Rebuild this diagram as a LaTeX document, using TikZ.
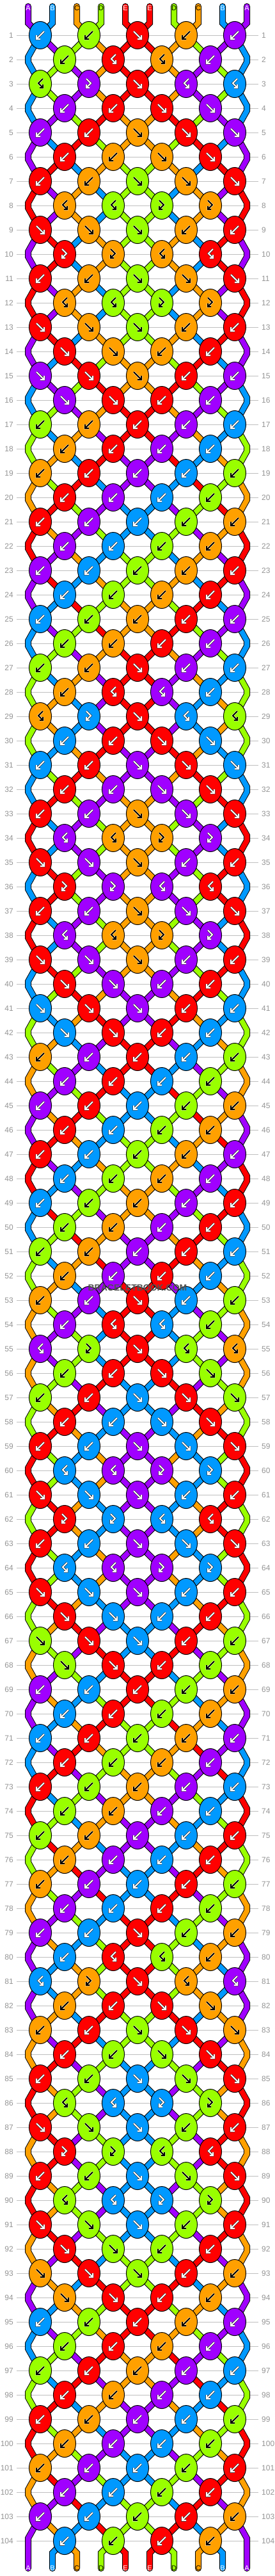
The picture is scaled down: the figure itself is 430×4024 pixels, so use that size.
\documentclass[tikz,border=0pt]{standalone}
\usepackage{fontspec}
\setmainfont{Liberation Sans}
\usetikzlibrary{shapes.geometric}

\begin{document}
\begin{tikzpicture}[x=1pt, y=-1pt,
    %Option for the pattern
    rowline/.style={draw=black!25, line width=1pt},
    rownum/.style={text=black!42, font=\fontsize{12}{12}\selectfont, inner sep=0pt},
    thread/.style={line width=1pt, double=#1, double distance=8pt},
    threadend/.style={thread=#1, line cap=round},
    knot/.style={ellipse, draw=black, line width=1pt, fill=#1,
        minimum width=35pt, minimum height=43pt, inner sep=0pt},
    knotmark/.style={draw=mark#1, line width=2pt, preaction={draw=edge#1, line width=3.4pt}},
    letter/.style={text=mark#1, font=\fontsize{11}{11}\selectfont, inner sep=0pt},
]
    % Colors
    \definecolor{threadA}{RGB}{160,0,255}
    \definecolor{threadB}{RGB}{0,153,255}
    \definecolor{threadC}{RGB}{255,160,0}
    \definecolor{threadD}{RGB}{153,255,0}
    \definecolor{threadE}{RGB}{255,0,0}
    \colorlet{markA}{white}
    \colorlet{markB}{white}
    \colorlet{markC}{black}
    \colorlet{markD}{black}
    \colorlet{markE}{white}
    \colorlet{edgeA}{black!80}
    \colorlet{edgeB}{black!80}
    \colorlet{edgeC}{white!70!threadC}
    \colorlet{edgeD}{white!70!threadD}
    \colorlet{edgeE}{black!80}

    \useasboundingbox (0,0) rectangle (430,4024);

    % Knot kinds: colour from left (0) or right (1) thread, threads crossed or not
    \def\rulef{\def\kside{0}\def\kswap{1}}
    \def\ruleb{\def\kside{1}\def\kswap{1}}
    \def\rulefb{\def\kside{0}\def\kswap{0}}
    \def\rulebf{\def\kside{1}\def\kswap{0}}
    \def\glyphf{(-6,-6) -- (6,6) (6,0) -- (6,6) -- (0,6)}
    \def\glyphb{(6,-6) -- (-6,6) (-6,0) -- (-6,6) -- (0,6)}
    \def\glyphbf{(4,-8) -- (-3,-1) -- (4,6) (4,1) -- (4,6) -- (-1,6)}
    \def\glyphfb{(-4,-8) -- (3,-1) -- (-4,6) (-4,1) -- (-4,6) -- (1,6)}

    % 26 rows, knotted four times
    \def\pattern{{b,b,f,b,b},{b,bf,bf,b},{bf,fb,f,bf,bf},{b,b,f,f},%
{b,b,f,f,f},{b,b,f,f},{b,b,f,f,f},{bf,bf,fb,fb},{f,f,f,b,b},{fb,fb,bf,bf},%
{b,b,f,f,f},{bf,bf,fb,fb},{f,f,f,b,b},{f,f,b,b},{f,f,f,b,b},{f,f,b,b},%
{b,b,b,b,b},{b,b,b,b},{b,b,b,b,b},{b,b,b,b},{b,b,b,b,b},{b,b,b,b},%
{b,b,b,b,b},{b,b,b,b},{b,b,b,b,b},{b,b,b,b}}

    % Row guide lines and numbers
    \foreach \row in {1,...,104} {
        \pgfmathtruncatemacro\ypos{55+38*(\row-1)}
        \draw[rowline] (26,\ypos) -- (404,\ypos);
        \node[rownum, anchor=east] (numL-\row) at (21,\ypos) {\row};
        \node[rownum, anchor=west] (numR-\row) at (409,\ypos) {\row};
    }

    % Threads at the start
    \foreach \col [count=\pos] in {A,B,C,D,E,E,D,C,B,A} {
        \expandafter\xdef\csname s\pos\endcsname{\col}
    }

    % Threads between the knots, row by row
    \foreach \rep in {0,...,3} {
      \foreach \types [count=\p] in \pattern {
        \pgfmathtruncatemacro\row{26*\rep+\p}
        \pgfmathtruncatemacro\odd{mod(\row,2)}
        \pgfmathtruncatemacro\ypos{55+38*(\row-1)}
        \pgfmathtruncatemacro\rp{\row-1}
        \pgfmathtruncatemacro\rr{\row-2}
        \foreach \kind [count=\kn] in \types {
          \pgfmathtruncatemacro\pl{2*\kn-\odd}
          \pgfmathtruncatemacro\pr{\pl+1}
          \pgfmathtruncatemacro\km{\kn-1}
          \pgfmathtruncatemacro\kp{\kn+1}
          \edef\inl{\csname s\pl\endcsname}
          \edef\inr{\csname s\pr\endcsname}
          \csname rule\kind\endcsname
          \ifnum\kside=0 \let\kc\inl \else \let\kc\inr \fi
          \expandafter\xdef\csname kc\row-\kn\endcsname{\kc}
          \coordinate (c\row-\kn) at ({63+76*(\kn-1)+38*(1-\odd)},\ypos);
          \ifnum\odd=1
            \ifnum\row>1
              \ifnum\kn=1
                \draw[thread=thread\inl] (c\rr-1) -- (44,\ypos-42) -- (44,\ypos-34) -- (c\row-1);
              \else
                \draw[thread=thread\inl] (c\rp-\km) -- (c\row-\kn);
              \fi
              \ifnum\kn=5
                \draw[thread=thread\inr] (c\rr-5) -- (386,\ypos-42) -- (386,\ypos-34) -- (c\row-5);
              \else
                \draw[thread=thread\inr] (c\rp-\kn) -- (c\row-\kn);
              \fi
            \fi
          \else
            \draw[thread=thread\inl] (c\rp-\kn) -- (c\row-\kn);
            \draw[thread=thread\inr] (c\rp-\kp) -- (c\row-\kn);
          \fi
          \ifnum\kswap=1
            \global\expandafter\let\csname s\pl\endcsname\inr
            \global\expandafter\let\csname s\pr\endcsname\inl
          \fi
        }
      }
    }

    % Thread ends at the top
    \foreach \col [count=\pos] in {A,B,C,D,E,E,D,C,B,A} {
        \pgfmathtruncatemacro\kn{(\pos+1)/2}
        \pgfmathsetmacro\xpos{44+38*(\pos-1)}
        \draw[threadend=thread\col] (\xpos,10) -- (\xpos,36) -- (c1-\kn);
        \node[letter=\col] (top-\pos) at (\xpos,13) {\col};
    }

    % Thread ends at the bottom
    \foreach \pos in {1,...,10} {
        \edef\col{\csname s\pos\endcsname}
        \pgfmathtruncatemacro\kn{\pos/2}
        \pgfmathsetmacro\xpos{44+38*(\pos-1)}
        \ifnum\pos=1
            \draw[threadend=thread\col] (c103-1) -- (44,3965) -- (44,4012);
        \else\ifnum\pos=10
            \draw[threadend=thread\col] (c103-5) -- (386,3965) -- (386,4012);
        \else
            \draw[threadend=thread\col] (c104-\kn) -- (\xpos,3988) -- (\xpos,4012);
        \fi\fi
        \node[letter=\col] (bot-\pos) at (\xpos,4012) {\col};
    }

    % Knots
    \foreach \rep in {0,...,3} {
      \foreach \types [count=\p] in \pattern {
        \pgfmathtruncatemacro\row{26*\rep+\p}
        \foreach \kind [count=\kn] in \types {
          \edef\kc{\csname kc\row-\kn\endcsname}
          \edef\g{\csname glyph\kind\endcsname}
          \node[knot=thread\kc] (k\row-\kn) at (c\row-\kn) {};
          \draw[knotmark=\kc, shift={(k\row-\kn.center)}] \g;
        }
      }
    }

    \node[text=black!68, font=\fontsize{14}{14}\selectfont\bfseries] (site) at (215,2012) {BRACELETBOOK.COM};
\end{tikzpicture}
\end{document}
